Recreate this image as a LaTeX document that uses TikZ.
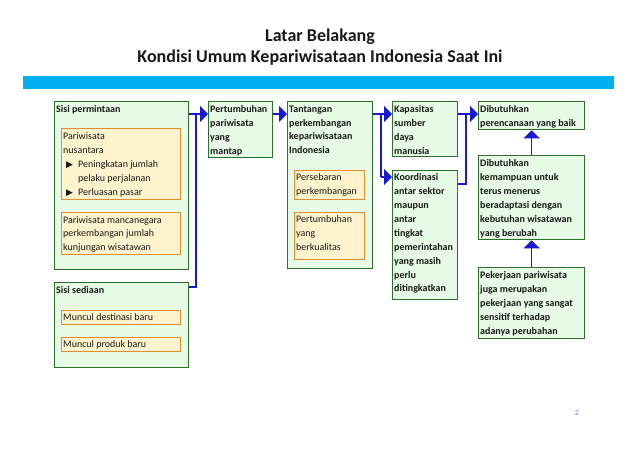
\documentclass[tikz,border=0pt]{standalone}
\usepackage{fontspec}
\setmainfont{Carlito}
\newfontfamily\symfont{DejaVu Sans}
\usetikzlibrary{arrows.meta,calc}
\definecolor{gfill}{RGB}{230,250,230}
\definecolor{gline}{RGB}{40,115,40}
\definecolor{ofill}{RGB}{255,243,205}
\definecolor{oline}{RGB}{228,140,50}
\definecolor{arr}{RGB}{25,25,210}
\definecolor{bar}{RGB}{0,176,240}
\definecolor{ink}{RGB}{25,25,25}
\definecolor{pgnum}{RGB}{90,150,200}
\newcommand{\bxfont}{\fontsize{10}{13.9}\selectfont}
\newcommand{\pt}{\hspace*{3pt}\makebox[12pt][l]{\symfont\fontsize{9}{9}\selectfont ▶}}
\tikzset{
  gbox/.style={draw=gline, fill=gfill, line width=1.3pt, inner sep=0pt, anchor=north west},
  obox/.style={draw=oline, fill=ofill, line width=1.3pt, inner sep=0pt, anchor=north west},
  btxt/.style={anchor=north west, inner sep=0pt, align=left, text=ink, font=\bxfont\bfseries},
  otxt/.style={anchor=north west, inner sep=0pt, align=left, text=ink, font=\bxfont},
  conn/.style={draw=arr, line width=1.6pt},
  connarrow/.style={conn, -{Triangle[length=8pt,width=16pt]}}
}
\begin{document}
\begin{tikzpicture}[x=1pt,y=-1pt]
\useasboundingbox[fill=white] (0,0) rectangle (638,451);
% title and bar
\node[font=\fontsize{18}{21}\selectfont\bfseries, text=ink, align=center] (title) at (320,47) {Latar Belakang\\Kondisi Umum Kepariwisataan Indonesia Saat Ini};
\node[fill=bar, minimum width=591, minimum height=13, inner sep=0pt, anchor=north west] (bar) at (23,76) {};
% left column
\node[gbox, minimum width=134, minimum height=168] (perm) at (54,101) {};
\node[btxt] (permT) at ($(perm.north west)+(2,4.5)$) {Sisi permintaan};
\node[obox, minimum width=119, minimum height=71] (nus) at (61,128) {};
\node[otxt] (nusT) at ($(nus.north west)+(2,4.5)$) {Pariwisata\\nusantara\\\pt Peningkatan jumlah\\\hspace*{15pt}pelaku perjalanan\\\pt Perluasan pasar};
\node[obox, minimum width=119, minimum height=42] (manc) at (61,212) {};
\node[otxt] (mancT) at ($(manc.north west)+(2,4)$) {Pariwisata mancanegara\\perkembangan jumlah\\kunjungan wisatawan};
\node[gbox, minimum width=134, minimum height=85] (sed) at (54,282) {};
\node[btxt] (sedT) at ($(sed.north west)+(2,4.5)$) {Sisi sediaan};
\node[obox, minimum width=119, minimum height=14] (dest) at (61,310) {};
\node[otxt] (destT) at ($(dest.north west)+(2,3)$) {Muncul destinasi baru};
\node[obox, minimum width=119, minimum height=14] (prod) at (61,337) {};
\node[otxt] (prodT) at ($(prod.north west)+(2,3)$) {Muncul produk baru};
% middle columns
\node[gbox, minimum width=64, minimum height=56] (pert) at (208,101) {};
\node[btxt] (pertT) at ($(pert.north west)+(2,4.5)$) {Pertumbuhan\\pariwisata\\yang\\mantap};
\node[gbox, minimum width=85, minimum height=167] (tant) at (287,101) {};
\node[btxt] (tantT) at ($(tant.north west)+(2,4.5)$) {Tantangan\\perkembangan\\kepariwisataan\\Indonesia};
\node[obox, minimum width=70, minimum height=29] (seb) at (294,170) {};
\node[otxt] (sebT) at ($(seb.north west)+(2,3.5)$) {Persebaran\\perkembangan};
\node[obox, minimum width=70, minimum height=47] (kual) at (294,212) {};
\node[otxt] (kualT) at ($(kual.north west)+(2,3.5)$) {Pertumbuhan\\yang\\berkualitas};
\node[gbox, minimum width=65, minimum height=55] (kap) at (392,101) {};
\node[btxt] (kapT) at ($(kap.north west)+(2,4.5)$) {Kapasitas\\sumber\\daya\\manusia};
\node[gbox, minimum width=65, minimum height=129] (koor) at (392,170) {};
\node[btxt] (koorT) at ($(koor.north west)+(2,3.5)$) {Koordinasi\\antar sektor\\maupun\\antar\\tingkat\\pemerintahan\\yang masih\\perlu\\ditingkatkan};
% right column
\node[gbox, minimum width=106, minimum height=28] (renc) at (478,101) {};
\node[btxt] (rencT) at ($(renc.north west)+(2,4.5)$) {Dibutuhkan\\perencanaan yang baik};
\node[gbox, minimum width=106, minimum height=84] (kemp) at (478,155) {};
\node[btxt] (kempT) at ($(kemp.north west)+(2,4.5)$) {Dibutuhkan\\kemampuan untuk\\terus menerus\\beradaptasi dengan\\kebutuhan wisatawan\\yang berubah};
\node[gbox, minimum width=106, minimum height=71] (peker) at (478,267) {};
\node[btxt] (pekerT) at ($(peker.north west)+(2,4.5)$) {Pekerjaan pariwisata\\juga merupakan\\pekerjaan yang sangat\\sensitif terhadap\\adanya perubahan};
% connectors
\coordinate (j1) at (196,114);
\coordinate (j1b) at (196,287);
\coordinate (j2) at (381,114);
\coordinate (j2b) at (381,177);
\coordinate (j3) at (466,114);
\coordinate (j3b) at (466,184);
\draw[conn] (j1 -| perm.east) -- (j1);
\draw[conn] (j1b -| sed.east) -- (j1b) -- (j1);
\draw[connarrow] (j1) -- (j1 -| pert.west);
\draw[connarrow] (j1 -| pert.east) -- (j1 -| tant.west);
\draw[conn] (j2 -| tant.east) -- (j2) -- (j2b);
\draw[connarrow] (j2) -- (j2 -| kap.west);
\draw[connarrow] (j2b) -- (j2b -| koor.west);
\draw[connarrow] (j3 -| kap.east) -- (j3 -| renc.west);
\draw[conn] (j3b -| koor.east) -- (j3b) -- (j3);
\draw[connarrow] (peker.north) -- (kemp.south);
\draw[connarrow] (kemp.north) -- (renc.south);
% page number
\node[font=\fontsize{8}{9}\selectfont, text=pgnum] (pg) at (577,413) {2};
\end{tikzpicture}
\end{document}
